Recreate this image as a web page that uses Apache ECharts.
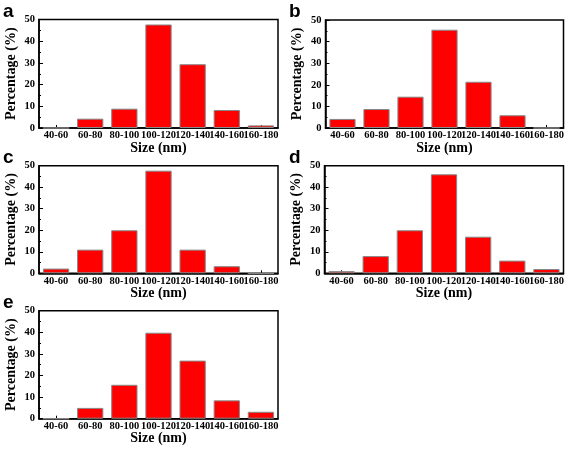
<!DOCTYPE html>
<html>
<head>
<meta charset="utf-8">
<script src="https://cdn.jsdelivr.net/npm/echarts@6/dist/echarts.min.js"></script>
<style>
html,body{margin:0;padding:0;background:#fff;}
#chart{width:567px;height:451px;}
</style>
</head>
<body>
<div id="chart"></div>
<script>
var categories = ['40-60','60-80','80-100','100-120','120-140','140-160','160-180'];
var valuesA = [0, 4.3, 8.9, 47.7, 29.4, 8.3, 1.2];
var valuesB = [4.2, 8.8, 14.5, 45.5, 21.4, 5.9, 0];
var valuesC = [2.2, 11.0, 20.0, 47.7, 11.0, 3.3, 0];
var valuesD = [1.0, 8.0, 20.0, 46.0, 17.0, 5.9, 2.0];
var valuesE = [0, 5.0, 15.7, 39.8, 26.9, 8.5, 3.2];
var panelLabels = ['a','b','c','d','e'];
var yTicks = {min: 0, max: 50, interval: 10};
var xTitle = 'Size (nm)';
var yTitle = 'Percentage (%)';

var panels = [valuesA, valuesB, valuesC, valuesD, valuesE];
var gridPos = [
  {left: 39, top: 19.5, width: 239, height: 108.5},
  {left: 325.5, top: 20, width: 238, height: 108},
  {left: 39, top: 165.7, width: 239, height: 107.6},
  {left: 324.5, top: 165.7, width: 239, height: 107.6},
  {left: 39, top: 310.7, width: 239, height: 108}
];
var letterPos = [[3, 2], [289, 2], [3, 148], [289, 148], [3, 293]];
var serif = 'Liberation Serif';

var grids = [], xAxes = [], yAxes = [], series = [], graphics = [];
panels.forEach(function (vals, i) {
  var g = gridPos[i];
  grids.push({left: g.left, top: g.top, width: g.width, height: g.height,
    show: true, borderColor: '#000', borderWidth: 1.5, backgroundColor: 'transparent'});
  xAxes.push({
    type: 'category', gridIndex: i, data: categories,
    name: xTitle, nameLocation: 'middle', nameGap: 13, nameMoveOverlap: false,
    nameTextStyle: {fontFamily: serif, fontWeight: 'bold', fontSize: 14, color: '#000'},
    axisLine: {lineStyle: {color: '#000', width: 1.5}},
    axisTick: {show: true, inside: true, alignWithLabel: true, length: 3, lineStyle: {color: '#000'}},
    axisLabel: {interval: 0, margin: 2, fontFamily: serif, fontWeight: 'bold', fontSize: 10.5, color: '#000'},
    splitLine: {show: false}
  });
  yAxes.push({
    type: 'value', gridIndex: i, min: yTicks.min, max: yTicks.max, interval: yTicks.interval,
    name: yTitle, nameLocation: 'middle', nameGap: 21, nameMoveOverlap: false,
    nameTextStyle: {fontFamily: serif, fontWeight: 'bold', fontSize: 14, color: '#000'},
    axisLine: {show: true, lineStyle: {color: '#000', width: 1.5}},
    axisTick: {show: true, inside: true, length: 4, lineStyle: {color: '#000'}},
    minorTick: {show: true, splitNumber: 2, length: 2, lineStyle: {color: '#000'}},
    axisLabel: {margin: 4, fontFamily: serif, fontWeight: 'bold', fontSize: 10.5, color: '#000'},
    splitLine: {show: false}
  });
  series.push({
    type: 'bar', xAxisIndex: i, yAxisIndex: i, data: vals,
    barCategoryGap: '23%',
    itemStyle: {color: '#ff0000', borderColor: '#888', borderWidth: 1},
    silent: true
  });
  graphics.push({
    type: 'text', left: letterPos[i][0], top: letterPos[i][1],
    style: {text: panelLabels[i], font: 'bold 19px "Liberation Sans", Arial, sans-serif', fill: '#000'}
  });
});

var chart = echarts.init(document.getElementById('chart'), null, {renderer: 'canvas'});
chart.setOption({
  animation: false,
  backgroundColor: '#fff',
  grid: grids,
  xAxis: xAxes,
  yAxis: yAxes,
  series: series,
  graphic: graphics
});
</script>
</body>
</html>
